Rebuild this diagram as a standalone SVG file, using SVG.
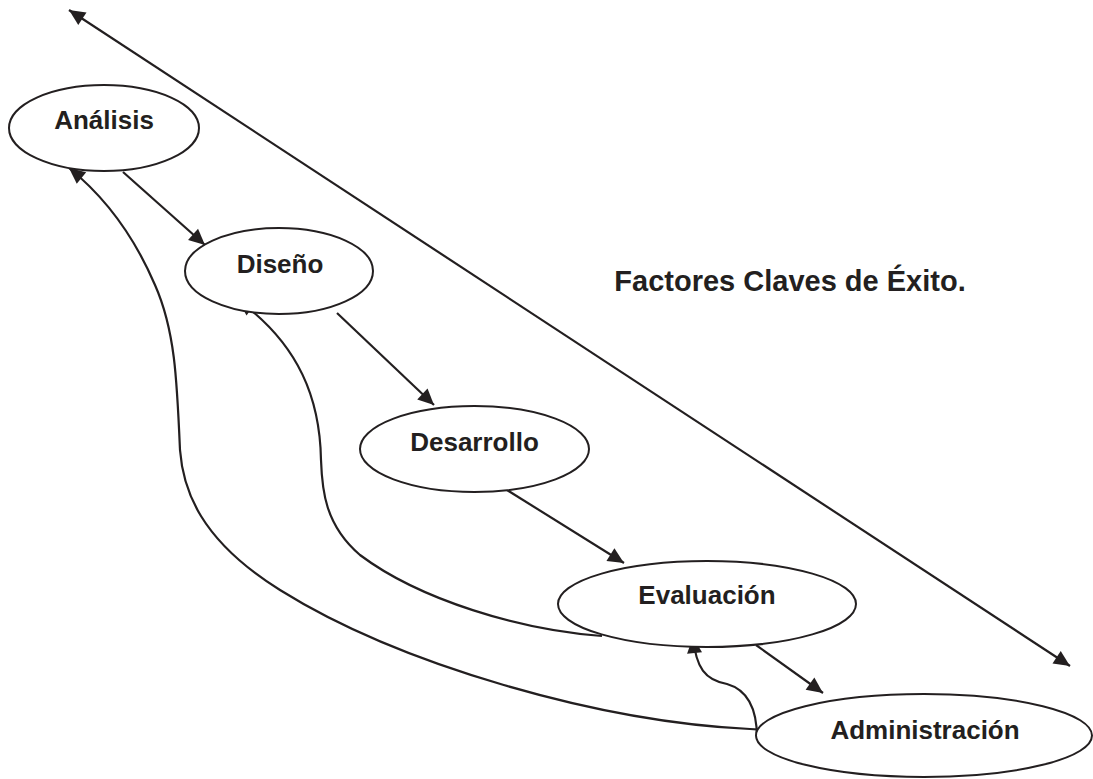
<svg xmlns="http://www.w3.org/2000/svg" width="1093" height="779" viewBox="0 0 1093 779">
<style>
.node ellipse{fill:#fff;stroke:#231f20;stroke-width:2}
.node text,.title{font-family:"Liberation Sans",Arial,sans-serif;font-weight:bold;fill:#231f20;text-anchor:middle}
.node text{font-size:26px}
.title{font-size:29px}
.conn{fill:none;stroke:#231f20;stroke-width:2.2}
</style>
<defs>
<marker id="ah" markerUnits="userSpaceOnUse" markerWidth="20" markerHeight="18" refX="16" refY="7.5" orient="auto" overflow="visible">
<path d="M0,0 L16,7.5 L0,15 z" fill="#231f20"/>
</marker>
<marker id="ahs" markerUnits="userSpaceOnUse" markerWidth="20" markerHeight="18" refX="0" refY="7.5" orient="auto" overflow="visible">
<path d="M16,0 L0,7.5 L16,15 z" fill="#231f20"/>
</marker>
</defs>
<g id="connectors">
<line class="conn" x1="69" y1="10" x2="1070" y2="666" marker-start="url(#ahs)" marker-end="url(#ah)"/>
<line class="conn" x1="123" y1="172" x2="205" y2="245" marker-end="url(#ah)"/>
<line class="conn" x1="337" y1="313" x2="434" y2="405" marker-end="url(#ah)"/>
<line class="conn" x1="507" y1="490" x2="624" y2="563" marker-end="url(#ah)"/>
<line class="conn" x1="756" y1="645" x2="823" y2="693" marker-end="url(#ah)"/>
<path class="conn" d="M768,730 L750,729 C600,722 400,665 280,590 C200,540 183,490 180,450 C177,380 175,330 155,285 C140,250 115,205 69,168" marker-end="url(#ah)"/>
<path class="conn" d="M602,636 C520,630 420,600 360,555 C325,525 322,490 321,460 C320,400 300,345 238,300" marker-end="url(#ah)"/>
<path class="conn" d="M757,738 C757,708 748,690 727,684 C705,680 696,668 693,637" marker-end="url(#ah)"/>
</g>
<g id="analisis" class="node">
<ellipse cx="104" cy="128" rx="95" ry="43"/>
<text x="104" y="129">Análisis</text>
</g>
<g id="diseno" class="node">
<ellipse cx="279" cy="271" rx="94" ry="43"/>
<text x="280" y="273">Diseño</text>
</g>
<g id="desarrollo" class="node">
<ellipse cx="474.5" cy="449" rx="114.5" ry="43"/>
<text x="474.5" y="451">Desarrollo</text>
</g>
<g id="evaluacion" class="node">
<ellipse cx="707" cy="604" rx="149" ry="43"/>
<text x="707" y="604">Evaluación</text>
</g>
<g id="administracion" class="node">
<ellipse cx="924" cy="735.5" rx="168" ry="41.5"/>
<text x="925" y="739">Administración</text>
</g>
<text id="titulo" class="title" x="790" y="291">Factores Claves de Éxito.</text>
</svg>
